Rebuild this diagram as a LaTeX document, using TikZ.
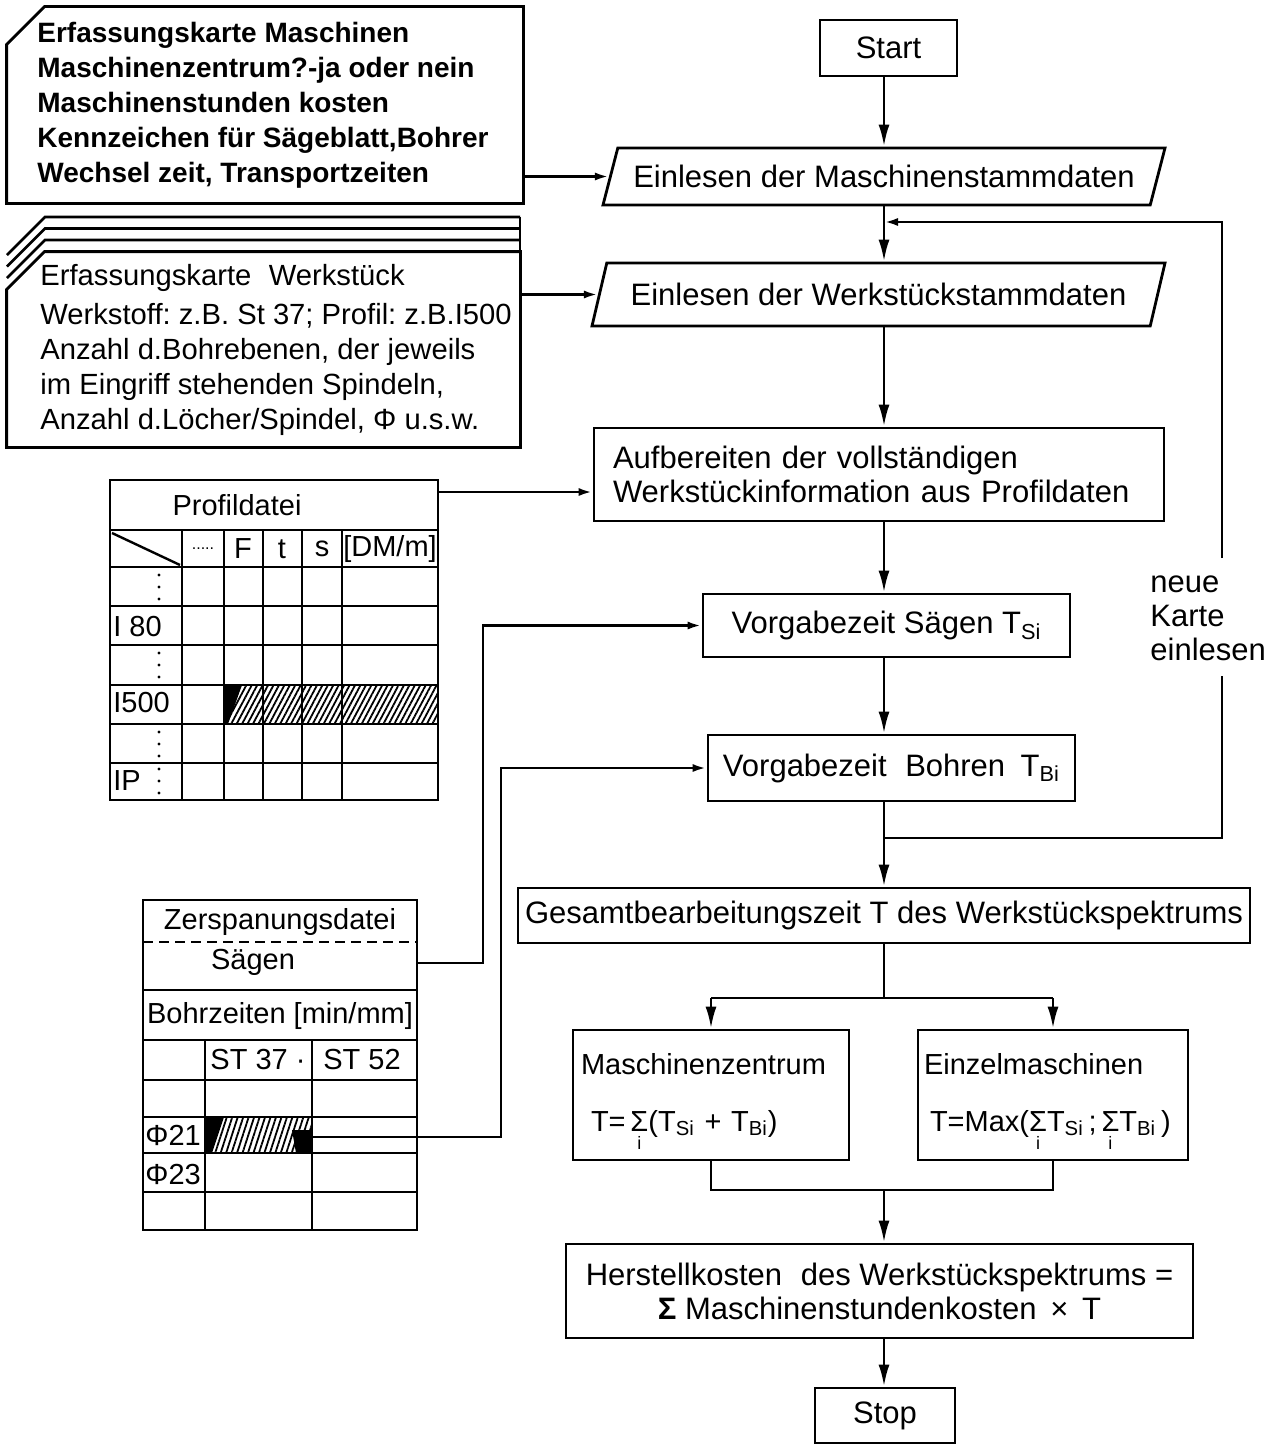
\documentclass[tikz,border=0pt]{standalone}
\usepackage{fontspec}
\setmainfont{Liberation Sans}
\usetikzlibrary{arrows.meta,shapes.geometric,patterns.meta,calc}
\newcommand{\sumi}{\smash{\begin{tabular}[t]{@{}c@{}}Σ\\[-7pt]{\fontsize{9}{9}\selectfont i}\end{tabular}}}
\newcommand{\mf}{\fontsize{15.5}{17}\selectfont}
\frenchspacing
\begin{document}
\begin{tikzpicture}[x=0.5pt,y=-0.5pt,
  ln/.style={line width=1.4pt},
  arr/.style={ln,-{Latex[length=11pt,width=5.5pt]}},
  sarr/.style={ln,-{Latex[length=7pt,width=4pt]}},
  box/.style={draw,ln,rectangle,inner sep=0pt,font=\mf,align=center},
  io/.style={draw,ln,trapezium,trapezium left angle=57,trapezium right angle=123,trapezium stretches body,inner sep=0pt,font=\mf},
  card/.style={rectangle,inner sep=0pt},
  tab/.style={line width=1.2pt},
  tt/.style={font=\fontsize{14.5}{16}\selectfont,inner sep=0pt},
  ctext/.style={align=left,anchor=north west,inner sep=0pt},
  hatch/.style={pattern={Lines[angle=62,distance=2.4pt,line width=0.9pt]}}
]
\useasboundingbox (0,0) rectangle (1285,1445);
\coordinate (col) at (884,0);

% ---------- main flow ----------
\node[box,minimum width=68.5pt,minimum height=28pt] (start) at (888.5,48) {Start};
\node[io,minimum width=281pt,minimum height=28.5pt] (p1) at (884,176.5) {Einlesen der Maschinenstammdaten};
\node[io,minimum width=286.5pt,minimum height=31.5pt] (p2) at (878.5,294.5) {Einlesen der Werkstückstammdaten};
\node[box,minimum width=285pt,minimum height=46.5pt,text width=266pt,align=left] (auf) at (879,474.5) {Aufbereiten der vollständigen\\Werkstückinformation aus Profildaten};
\node[box,minimum width=183.5pt,minimum height=31.5pt] (vs) at (886.5,625.5) {Vorgabezeit Sägen T\textsubscript{Si}};
\node[box,minimum width=183.5pt,minimum height=33pt] (vb) at (891.5,768) {Vorgabezeit\hspace{0.6em}Bohren\hspace{0.5em}T\textsubscript{Bi}};
\node[box,minimum width=366pt,minimum height=27.5pt] (ges) at (884,915.5) {Gesamtbearbeitungszeit T des Werkstückspektrums};
\node[box,minimum width=138pt,minimum height=65pt,text width=130pt,align=left,font=\fontsize{14.5}{16}\selectfont] (mz) at (711,1095) {Maschinenzentrum\\[12.5pt]\hspace*{5pt}T=\,\sumi(T\textsubscript{Si} + T\textsubscript{Bi})};
\node[box,minimum width=135pt,minimum height=65pt,text width=129pt,align=left,font=\fontsize{14.5}{16}\selectfont] (em) at (1053,1095) {Einzelmaschinen\\[12.5pt]\hspace*{3pt}T=Max(\sumi T\textsubscript{Si}\,;\,\sumi T\textsubscript{Bi}\,)};
\node[box,minimum width=313.5pt,minimum height=47pt] (herst) at (879.5,1291) {Herstellkosten\hspace{0.6em}des Werkstückspektrums =\\\textbf{Σ} Maschinenstundenkosten \,×\, T};
\node[box,minimum width=70pt,minimum height=27.5pt] (stop) at (885,1415.5) {Stop};

\node[ctext,font=\fontsize{15.5}{17}\selectfont] (neu) at (1150,575) {neue\\Karte\\einlesen};

% ---------- input cards ----------
\node[card,minimum width=258pt,minimum height=98pt] (card1) at (265,105) {};
\draw[ln] ($(card1.north west)+(38,0)$) -- (card1.north east) -- (card1.south east) -- (card1.south west) -- ($(card1.north west)+(0,38)$) -- cycle;
\node[ctext,font=\bfseries\fontsize{14}{17.5}\selectfont] (c1t) at (37,22) {Erfassungskarte Maschinen\\Maschinenzentrum?-ja oder nein\\Maschinenstunden kosten\\Kennzeichen für Sägeblatt,Bohrer\\Wechsel zeit, Transportzeiten};

\node[card,minimum width=256.5pt,minimum height=97.5pt] (card2) at (263.5,349.5) {};
\draw[ln] ($(card2.north west)+(38,0)$) -- (card2.north east) -- (card2.south east) -- (card2.south west) -- ($(card2.north west)+(0,38)$) -- cycle;
\foreach \y in {217,228.5,240}{
  \draw[ln] (7,\y+38) -- (45,\y) -- (520,\y);
}
\draw[ln] (520,217) -- (520,252);
\node[ctext,font=\fontsize{14.6}{17.5}\selectfont] (c2t) at (40,264) {Erfassungskarte\hspace{0.6em}Werkstück\\[2pt]Werkstoff: z.B. St 37; Profil: z.B.I500\\Anzahl d.Bohrebenen, der jeweils\\im Eingriff stehenden Spindeln,\\Anzahl d.Löcher/Spindel, Φ u.s.w.};

% ---------- Profildatei ----------
\fill[hatch] (224,685) rectangle (438,724);
\fill (224,685) -- (242,685) -- (228,724) -- (224,724) -- cycle;
\draw[tab] (110,480) rectangle (438,800);
\draw[tab] (110,530) -- (438,530);
\foreach \y in {567,606,645,685,724,763}{\draw[tab] (110,\y) -- (438,\y);}
\foreach \x in {182,224,263,302,342}{\draw[tab] (\x,530) -- (\x,800);}
\draw[tab] (112,533) -- (180,565);
\node[tt] (proft) at (237,505) {Profildatei};
\node[tt] (h0) at (203,549) {\fontsize{8}{8}\selectfont .....};
\node[tt] (h1) at (243,549) {F};
\node[tt] (h2) at (282,549) {t};
\node[tt] (h3) at (322,549) {s};
\node[tt] (h4) at (390,549) {[DM/m]};
\node[tt,anchor=west] (r1) at (113,627) {I 80};
\node[tt,anchor=west] (r2) at (113,703) {I500};
\node[tt,anchor=west] (r3) at (113,781) {IP};
\foreach \y in {575,587,599,653,665,677,732,744,756,769,781,793}{\fill (159,\y) circle (0.8pt);}
\coordinate (profout) at (438,492);

% ---------- Zerspanungsdatei ----------
\fill[pattern={Lines[angle=72,distance=2.6pt,line width=0.9pt]}] (205,1117) rectangle (312,1153);
\fill (205,1117) -- (224,1117) -- (212,1153) -- (205,1153) -- cycle;
\fill (292,1130) -- (312,1130) -- (312,1153) -- (296,1153) -- cycle;
\draw[tab] (143,900) rectangle (417,1230);
\draw[tab,dashed,dash pattern=on 5pt off 3pt] (143,942) -- (417,942);
\foreach \y in {990,1040,1080,1117,1153,1192}{\draw[tab] (143,\y) -- (417,\y);}
\foreach \x in {205,312}{\draw[tab] (\x,1040) -- (\x,1230);}
\node[tt] (zt) at (280,922) {Zerspanungsdatei};
\node[tt] (zs) at (253,962) {Sägen};
\node[tt] (zb) at (280,1016) {Bohrzeiten [min/mm]};
\node[tt] (z1) at (258,1060) {ST 37 ·};
\node[tt] (z2) at (362,1060) {ST 52};
\node[tt,anchor=west] (z3) at (145,1135) {Φ21};
\node[tt,anchor=west] (z4) at (145,1175) {Φ23};
\coordinate (zsout) at (417,963);
\coordinate (zsbend) at (483,963);
\coordinate (phiout) at (312,1137);
\coordinate (phibend) at (501,1137);

% ---------- connectors ----------
\draw[arr] (start.south -| col) -- (col |- p1.north);
\draw[arr] (col |- p1.south) -- (col |- p2.north);
\draw[arr] (col |- p2.south) -- (col |- auf.north);
\draw[arr] (col |- auf.south) -- (col |- vs.north);
\draw[arr] (col |- vs.south) -- (col |- vb.north);
\draw[arr] (col |- vb.south) -- (col |- ges.north);
\coordinate (split) at (884,998);
\coordinate (sl) at (711,998);
\coordinate (sr) at (1053,998);
\draw[ln] (col |- ges.south) -- (split);
\draw[ln] (sl) -- (sr);
\draw[arr] (sl) -- (mz.north);
\draw[arr] (sr) -- (em.north);
\coordinate (ml) at (711,1190);
\coordinate (mr) at (1053,1190);
\draw[ln] (mz.south) -- (ml) -- (mr) -- (em.south);
\draw[arr] (col |- ml) -- (col |- herst.north);
\draw[arr] (col |- herst.south) -- (col |- stop.north);

% loop "neue Karte einlesen"
\coordinate (loopA) at (884,838);
\coordinate (loopR) at (1222,838);
\coordinate (gapB) at (1222,676);
\coordinate (gapT) at (1222,558);
\coordinate (loopT) at (1222,222);
\coordinate (loopE) at (884,222);
\draw[ln] (loopA) -- (loopR) -- (gapB);
\draw[sarr] (gapT) -- (loopT) -- (loopE);

% side inputs
\draw[sarr] (card1.east |- p1.west) -- (p1.west);
\draw[sarr] (card2.east |- p2.west) -- (p2.west);
\draw[sarr] (profout) -- (profout -| auf.west);
\draw[sarr] (zsout) -- (zsbend) |- (vs.west);
\draw[sarr] (phiout) -- (phibend) |- (vb.west);
\end{tikzpicture}
\end{document}
